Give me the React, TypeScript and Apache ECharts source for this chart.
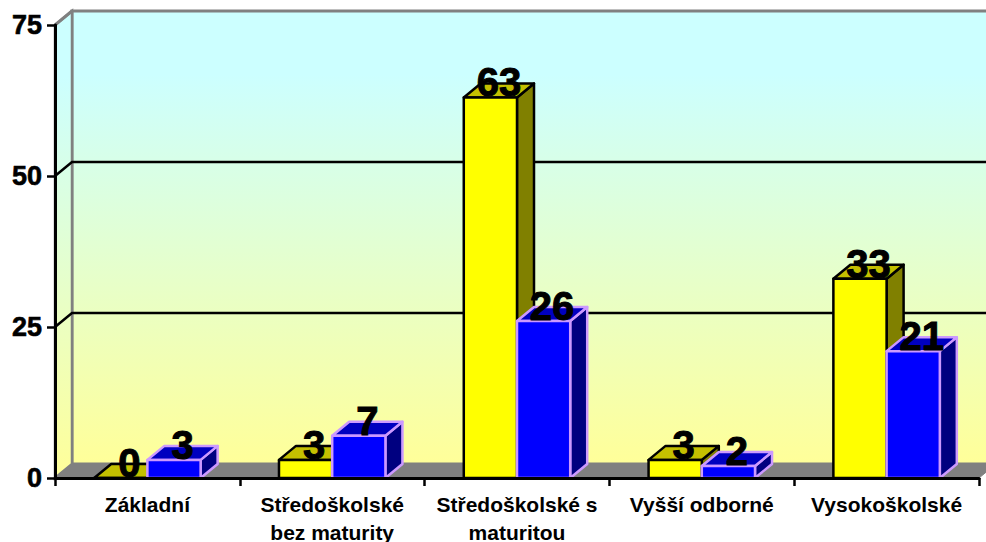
import React, { useEffect, useRef } from "react";
import * as echarts from "echarts";

const categories = ["Základní", "Středoškolské\nbez maturity", "Středoškolské s\nmaturitou", "Vyšší odborné", "Vysokoškolské"];
const yellowValues = [0, 3, 63, 3, 33];
const blueValues = [3, 7, 26, 2, 21];
const gridTicks = [25, 50];

const DX = 17;
const DY = -14;
const FONT = '"Liberation Sans", Arial, sans-serif';

function scene(_p: any, api: any) {
  const n = categories.length;
  const bl = api.coord([0, 0]);
  const tl = api.coord([0, 75]);
  const band = api.size([1, 0])[0];
  const x0 = bl[0] - band / 2;
  const x1 = x0 + band * n;
  const y0 = bl[1];
  const y1 = tl[1];
  const wall = new echarts.graphic.LinearGradient(0, 0, 0, 1, [
    { offset: 0, color: "#CCFFFF" },
    { offset: 0.14, color: "#CCFFFF" },
    { offset: 1, color: "#FFFF99" },
  ]);
  const gray = "#808080";
  const children: any[] = [
    { type: "rect", shape: { x: x0 + DX, y: y1 + DY, width: x1 - x0, height: y0 - y1 }, style: { fill: wall, stroke: gray, lineWidth: 3 } },
    { type: "polygon", shape: { points: [[x0, y0], [x0 + DX, y0 + DY], [x0 + DX, y1 + DY], [x0, y1]] }, style: { fill: wall, stroke: gray, lineWidth: 2.5 } },
    { type: "polygon", shape: { points: [[x0, y0], [x0 + DX, y0 + DY], [x1 + DX, y0 + DY], [x1, y0]] }, style: { fill: gray, stroke: gray, lineWidth: 1 } },
  ];
  gridTicks.forEach((t) => {
    const y = api.coord([0, t])[1];
    children.push({
      type: "polyline",
      shape: { points: [[x0, y], [x0 + DX, y + DY], [x1 + DX, y + DY]] },
      style: { fill: "none", stroke: "#000000", lineWidth: 2.5 },
    });
  });
  children.push({
    type: "line",
    shape: { x1: x0, y1: y1, x2: x0 + DX, y2: y1 + DY },
    style: { stroke: gray, lineWidth: 3 },
  });
  return { type: "group", children };
}

function barRenderer(side: number, front: string, top: string, right: string, stroke: string) {
  return (_p: any, api: any) => {
    const i = api.value(0);
    const v = api.value(1);
    const c = api.coord([i, v]);
    const base = api.coord([i, 0]);
    const w = api.size([1, 0])[0] * 0.288;
    const xa = side < 0 ? c[0] - w : c[0];
    const xb = xa + w;
    const yt = c[1];
    const yb = base[1];
    const style = (fill: string) => ({ fill, stroke, lineWidth: 2.5, lineJoin: "round" });
    return {
      type: "group",
      children: [
        { type: "polygon", shape: { points: [[xb, yb], [xb + DX, yb + DY], [xb + DX, yt + DY], [xb, yt]] }, style: style(right) },
        { type: "polygon", shape: { points: [[xa, yt], [xa + DX, yt + DY], [xb + DX, yt + DY], [xb, yt]] }, style: style(top) },
        { type: "rect", shape: { x: xa, y: yt, width: w, height: yb - yt }, style: style(front) },
      ],
    };
  };
}

function labelRenderer(side: number) {
  return (_p: any, api: any) => {
    const i = api.value(0);
    const v = api.value(1);
    const c = api.coord([i, v]);
    const w = api.size([1, 0])[0] * 0.288;
    const cx = (side < 0 ? c[0] - w / 2 : c[0] + w / 2) + 8.5;
    return {
      type: "text",
      x: cx,
      y: c[1] + 5,
      style: {
        text: String(v),
        fill: "#000000",
        font: `bold 40px ${FONT}`,
        textAlign: "center",
        textVerticalAlign: "bottom",
        stroke: "#000000",
        lineWidth: 1,
      },
    };
  };
}

const toData = (vals: number[]) => vals.map((v, i) => [i, v]);

export default function App() {
  const ref = useRef<HTMLDivElement>(null);
  useEffect(() => {
    const chart = echarts.init(ref.current!, null, { renderer: "svg" });
    chart.setOption({
      animation: false,
      backgroundColor: "#FFFFFF",
      grid: { left: 55, top: 25, width: 924, height: 453, containLabel: false, outerBoundsMode: "none" },
      xAxis: {
        type: "category",
        data: categories,
        z: 5,
        boundaryGap: true,
        axisLine: { lineStyle: { color: "#000000", width: 3 } },
        axisTick: { show: true, length: 8, lineStyle: { color: "#000000", width: 2.5 } },
        axisLabel: { interval: 0, color: "#000000", fontFamily: FONT, fontWeight: "bold", fontSize: 21, lineHeight: 28, margin: 12 },
      },
      yAxis: {
        type: "value",
        min: 0,
        max: 75,
        interval: 25,
        z: 5,
        splitLine: { show: false },
        axisLine: { show: true, lineStyle: { color: "#000000", width: 3 } },
        axisTick: { show: true, length: 8, lineStyle: { color: "#000000", width: 2.5 } },
        axisLabel: { color: "#000000", fontFamily: FONT, fontWeight: "bold", fontSize: 27, margin: 13, textBorderColor: "#000000", textBorderWidth: 0.6 },
      },
      series: [
        { type: "custom", z: 1, silent: true, clip: false, renderItem: scene, data: [[0, 0]], encode: { x: 0, y: 1 } },
        { type: "custom", z: 2, silent: true, clip: false, renderItem: barRenderer(-1, "#FFFF00", "#C4C000", "#808000", "#000000"), data: toData(yellowValues), encode: { x: 0, y: 1 } },
        { type: "custom", z: 3, silent: true, clip: false, renderItem: barRenderer(1, "#0000FF", "#0000C0", "#000080", "#CC99FF"), data: toData(blueValues), encode: { x: 0, y: 1 } },
        { type: "custom", z: 6, silent: true, clip: false, renderItem: labelRenderer(-1), data: toData(yellowValues), encode: { x: 0, y: 1 } },
        { type: "custom", z: 6, silent: true, clip: false, renderItem: labelRenderer(1), data: toData(blueValues), encode: { x: 0, y: 1 } },
      ],
    });
    return () => chart.dispose();
  }, []);
  return <div ref={ref} style={{ position: "absolute", left: 0, top: 0, width: 986, height: 542, overflow: "hidden" }} />;
}
